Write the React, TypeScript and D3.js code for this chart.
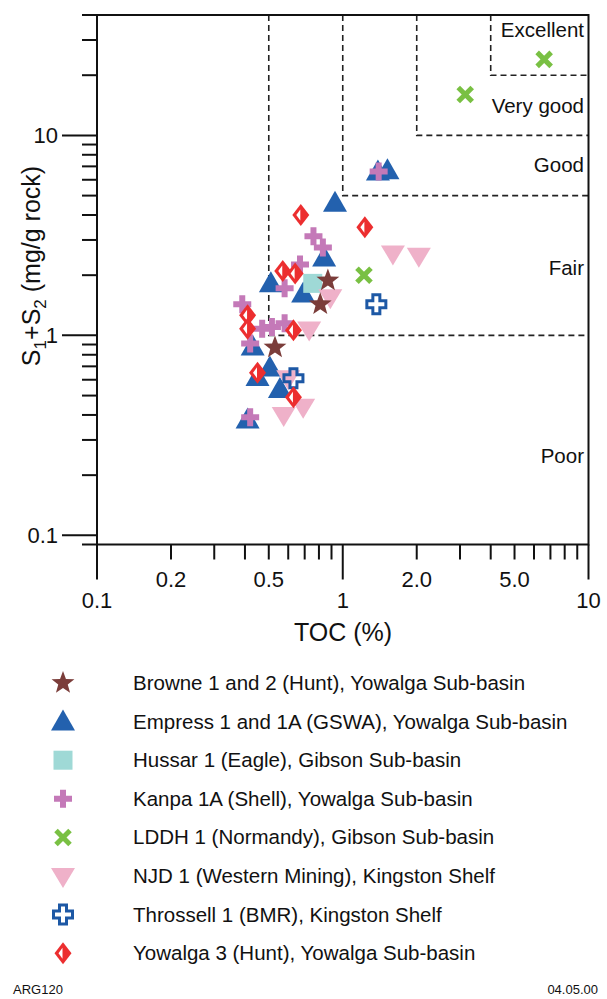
import React from "react";
import * as d3 from "d3";

const W = 607;
const H = 999;

// ---- data ----
const seriesNames = [
  "Browne 1 and 2 (Hunt), Yowalga Sub-basin",
  "Empress 1 and 1A (GSWA), Yowalga Sub-basin",
  "Hussar 1 (Eagle), Gibson Sub-basin",
  "Kanpa 1A (Shell), Yowalga Sub-basin",
  "LDDH 1 (Normandy), Gibson Sub-basin",
  "NJD 1 (Western Mining), Kingston Shelf",
  "Throssell 1 (BMR), Kingston Shelf",
  "Yowalga 3 (Hunt), Yowalga Sub-basin",
];
const markerKinds = ["star", "triangle", "square", "cross", "x", "down", "hollow", "diamond"];
const markerColors = ["#7b3d3a", "#2361ae", "#9fd9d6", "#c479b8", "#79c043", "#efb1c9", "#1d58a5", "#ec2e2f"];

// [TOC %, S1+S2 mg/g]
const browne: [number, number][] = [[0.87, 1.88], [0.81, 1.43], [0.53, 0.87]];
const empress: [number, number][] = [
  [1.39, 6.6], [1.52, 6.7], [0.93, 4.6], [0.84, 2.45], [0.51, 1.82], [0.69, 1.62],
  [0.43, 0.88], [0.505, 0.69], [0.45, 0.62], [0.555, 0.54], [0.41, 0.38],
];
const hussar: [number, number][] = [[0.755, 1.82]];
const kanpa: [number, number][] = [
  [1.4, 6.6], [0.76, 3.13], [0.83, 2.75], [0.67, 2.26], [0.58, 1.72], [0.39, 1.43],
  [0.47, 1.08], [0.515, 1.1], [0.58, 1.15], [0.42, 0.91], [0.42, 0.39],
];
const lddh: [number, number][] = [[6.6, 24], [3.15, 16], [1.22, 2.0]];
const njd: [number, number][] = [
  [1.6, 2.57], [2.04, 2.5], [0.89, 1.55], [0.73, 1.07], [0.6, 0.61], [0.575, 0.4], [0.69, 0.44],
];
const throssell: [number, number][] = [[1.37, 1.43], [0.63, 0.61]];
const yowalga: [number, number][] = [
  [0.675, 4.0], [1.23, 3.47], [0.57, 2.1], [0.64, 2.04], [0.41, 1.26], [0.41, 1.08],
  [0.63, 1.06], [0.45, 0.65], [0.63, 0.49],
];

// drawing order
const drawOrder = [1, 2, 5, 3, 0, 6, 4, 7];
const seriesData = [browne, empress, hussar, kanpa, lddh, njd, throssell, yowalga];

const xMajor = [0.1, 1, 10];
const xMajorLabels = ["0.1", "1", "10"];
const xMinorLabeled = [0.2, 0.5, 2, 5];
const xMinorLabels = ["0.2", "0.5", "2.0", "5.0"];
const yMajor = [0.1, 1, 10];
const yMajorLabels = ["0.1", "1", "10"];

// quality zones: [TOC threshold, S1+S2 threshold]
const zoneCorners: [number, number][] = [[0.5, 1], [1, 5], [2, 10], [4, 20]];
const zoneLabels = ["Excellent", "Very good", "Good", "Fair", "Poor"];
const zoneLabelY = [33.5, 14.1, 7.1, 2.16, 0.25];

const FONT = "'Liberation Sans', Arial, Helvetica, sans-serif";

function Marker({ kind, color, x, y }: { kind: string; color: string; x: number; y: number }) {
  const t = `translate(${x},${y})`;
  switch (kind) {
    case "star": {
      const pts: string[] = [];
      for (let i = 0; i < 10; i++) {
        const r = i % 2 === 0 ? 12 : 5;
        const a = -Math.PI / 2 + (i * Math.PI) / 5;
        pts.push(`${r * Math.cos(a)},${r * Math.sin(a)}`);
      }
      return <polygon transform={t} points={pts.join(" ")} fill={color} />;
    }
    case "triangle":
      return <polygon transform={t} points="0,-12 12,9 -12,9" fill={color} />;
    case "down":
      return <polygon transform={t} points="-12,-8 12,-8 0,12" fill={color} />;
    case "square":
      return <rect transform={t} x={-9.5} y={-9.5} width={19} height={19} fill={color} />;
    case "cross":
      return <path transform={t} d="M-3,-9H3V-3H9V3H3V9H-3V3H-9V-3H-3Z" fill={color} />;
    case "x":
      return (
        <g transform={t} stroke={color} strokeWidth={5}>
          <line x1={-7} y1={-7} x2={7} y2={7} />
          <line x1={-7} y1={7} x2={7} y2={-7} />
        </g>
      );
    case "hollow":
      return (
        <path
          transform={t}
          d="M-3.5,-9.5H3.5V-3.5H9.5V3.5H3.5V9.5H-3.5V3.5H-9.5V-3.5H-3.5Z"
          fill="none"
          stroke={color}
          strokeWidth={3}
        />
      );
    case "diamond":
      return (
        <g transform={t}>
          <polygon points="0,-11 8.5,0 0,11 -8.5,0" fill={color} />
          <polygon points="-0.5,-5.5 -0.5,5.5 -4.5,0" fill="#fff" />
        </g>
      );
  }
  return null;
}

export default function App() {
  const left = 97, right = 588.5, top = 15, bottom = 544.5;
  const x = d3.scaleLog().domain([0.1, 10]).range([left, right]);
  const y = d3.scaleLog().domain([0.09, 40]).range([bottom, top]);

  const xMinor: number[] = [];
  for (const d of [0.1, 1]) for (let k = 2; k <= 9; k++) xMinor.push(d * k);
  const yMinor: number[] = [0.09];
  for (const d of [0.1, 1, 10]) for (let k = 2; k <= 9; k++) if (d * k <= 40) yMinor.push(d * k);

  const dash = "6,4";
  const legendY0 = 683;
  const legendStep = 38.6;

  return (
    <svg
      width={W}
      height={H}
      style={{ position: "absolute", left: 0, top: 0, background: "#fff" }}
      fontFamily={FONT}
    >
      <rect x={0} y={0} width={W} height={H} fill="#fff" />
      <g stroke="#222" strokeWidth={1.6} strokeDasharray={dash} fill="none">
        {zoneCorners.map(([tx, sy], i) => (
          <path key={i} d={`M${x(tx)},${top}V${y(sy)}H${right}`} />
        ))}
      </g>
      <g fontSize={20.5} textAnchor="end" fill="#111">
        {zoneLabels.map((l, i) => (
          <text key={l} x={584} y={y(zoneLabelY[i]) + 7}>
            {l}
          </text>
        ))}
      </g>
      {drawOrder.map((si) =>
        seriesData[si].map((p, j) => (
          <Marker key={`${si}-${j}`} kind={markerKinds[si]} color={markerColors[si]} x={x(p[0])} y={y(p[1])} />
        ))
      )}
      <rect x={left} y={top} width={right - left} height={bottom - top} fill="none" stroke="#111" strokeWidth={2} />
      <g stroke="#111" strokeWidth={2}>
        {xMajor.map((v) => (
          <line key={v} x1={x(v)} x2={x(v)} y1={bottom} y2={bottom + 35} />
        ))}
        {xMinor.map((v) => (
          <line key={v} x1={x(v)} x2={x(v)} y1={bottom} y2={bottom + 15} />
        ))}
        {yMajor.map((v) => (
          <line key={v} x1={left - 35} x2={left} y1={y(v)} y2={y(v)} />
        ))}
        {yMinor.map((v) => (
          <line key={v} x1={left - 15} x2={left} y1={y(v)} y2={y(v)} />
        ))}
      </g>
      <g fontSize={22} fill="#111" textAnchor="middle">
        {xMajor.map((v, i) => (
          <text key={v} x={x(v)} y={608}>
            {xMajorLabels[i]}
          </text>
        ))}
        {xMinorLabeled.map((v, i) => (
          <text key={v} x={x(v)} y={587}>
            {xMinorLabels[i]}
          </text>
        ))}
      </g>
      <g fontSize={22} fill="#111" textAnchor="end">
        {yMajor.map((v, i) => (
          <text key={v} x={58} y={y(v) + 8}>
            {yMajorLabels[i]}
          </text>
        ))}
      </g>
      <text x={343} y={641} fontSize={25} textAnchor="middle" fill="#111">
        TOC (%)
      </text>
      <text transform="translate(40,266) rotate(-90)" fontSize={25} textAnchor="middle" fill="#111">
        S<tspan fontSize={17} dy={6}>1</tspan>
        <tspan dy={-6}>+S</tspan>
        <tspan fontSize={17} dy={6}>2</tspan>
        <tspan dy={-6}> (mg/g rock)</tspan>
      </text>
      {seriesNames.map((name, i) => (
        <g key={name}>
          <Marker kind={markerKinds[i]} color={markerColors[i]} x={63} y={legendY0 + i * legendStep} />
          <text x={133} y={legendY0 + i * legendStep + 7} fontSize={20.5} fill="#111">
            {name}
          </text>
        </g>
      ))}
      <text x={13} y={994} fontSize={13} fill="#111">
        ARG120
      </text>
      <text x={598} y={994} fontSize={13} fill="#111" textAnchor="end">
        04.05.00
      </text>
    </svg>
  );
}
